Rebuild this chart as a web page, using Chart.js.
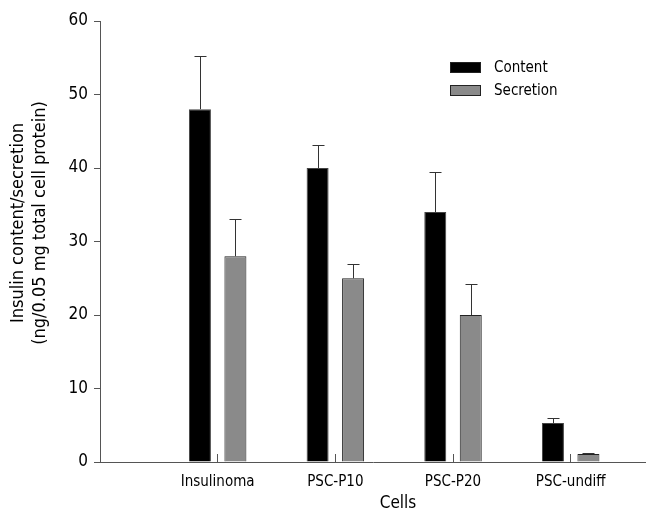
<!DOCTYPE html>
<html>
<head>
<meta charset="utf-8">
<script src="https://cdn.jsdelivr.net/npm/chart.js@4.4.0/dist/chart.umd.min.js"></script>
<style>
  html, body { margin: 0; padding: 0; background: #fff; }
  #wrap { width: 646px; height: 512px; }
</style>
</head>
<body>
<div id="wrap"><canvas id="insulin"></canvas></div>
<script>
const cells = ["Insulinoma", "PSC-P10", "PSC-P20", "PSC-undiff"];
const contentValues = [48, 40, 34, 5.3];
const contentErrors = [7.2, 3.1, 5.5, 0.7];
const secretionValues = [28, 25, 20, 1.1];
const secretionErrors = [5.0, 2.0, 4.2, 0.15];
const yTicks = [0, 10, 20, 30, 40, 50, 60];

const FONT = "'DejaVu Sans Condensed', 'DejaVu Sans', sans-serif";
const AXIS = "#555";

// upward error bars with caps
const errorBars = {
  id: "errorBars",
  afterDatasetsDraw(chart) {
    const ctx = chart.ctx;
    const y = chart.scales.y;
    ctx.save();
    ctx.strokeStyle = "#333";
    ctx.lineWidth = 1;
    chart.data.datasets.forEach((ds, di) => {
      const meta = chart.getDatasetMeta(di);
      meta.data.forEach((bar, i) => {
        const top = y.getPixelForValue(ds.data[i].y + ds.errors[i]);
        const x = Math.round(bar.x) + 0.5;
        ctx.beginPath();
        ctx.moveTo(x, bar.y);
        ctx.lineTo(x, Math.round(top) + 0.5);
        ctx.moveTo(x - 6, Math.round(top) + 0.5);
        ctx.lineTo(x + 6, Math.round(top) + 0.5);
        ctx.stroke();
      });
    });
    ctx.restore();
  }
};

// legend and axis titles
const labels = {
  id: "labels",
  afterDraw(chart) {
    const ctx = chart.ctx;
    ctx.save();
    ctx.fillStyle = "#000";
    ctx.textBaseline = "middle";
    ctx.font = "15px " + FONT;
    chart.data.datasets.forEach((ds, di) => {
      const yy = 62 + di * 23;
      ctx.fillStyle = ds.backgroundColor;
      ctx.fillRect(450, yy, 31, 11);
      ctx.strokeStyle = "#222";
      ctx.strokeRect(450.5, yy + 0.5, 30, 10);
      ctx.fillStyle = "#000";
      ctx.textAlign = "left";
      ctx.fillText(ds.label, 494, yy + 6);
    });

    ctx.textAlign = "center";
    ctx.font = "17px " + FONT;
    ctx.fillText("Cells", 398, 504);

    ctx.font = "18px " + FONT;
    ctx.translate(29, 223);
    ctx.rotate(-Math.PI / 2);
    ctx.fillText("Insulin content/secretion", 0, -11);
    ctx.fillText("(ng/0.05 mg total cell protein)", 0, 11);
    ctx.restore();
  }
};

new Chart(document.getElementById("insulin"), {
  type: "bar",
  data: {
    datasets: [
      {
        label: "Content",
        data: contentValues.map((v, i) => ({ x: i + 1, y: v })),
        errors: contentErrors,
        backgroundColor: "#000",
        borderColor: "#444",
        borderWidth: 1,
      },
      {
        label: "Secretion",
        data: secretionValues.map((v, i) => ({ x: i + 1, y: v })),
        errors: secretionErrors,
        backgroundColor: "#8a8a8a",
        borderColor: "#222",
        borderWidth: 1,
      },
    ],
  },
  options: {
    responsive: true,
    maintainAspectRatio: false,
    animation: false,
    categoryPercentage: 0.603,
    barPercentage: 0.62,
    layout: { padding: { top: 21, right: 0, left: 0, bottom: 0 } },
    plugins: { legend: { display: false }, tooltip: { enabled: false } },
    scales: {
      x: {
        type: "linear",
        min: 0,
        max: 4.64,
        offset: false,
        border: { color: AXIS, width: 1 },
        grid: { offset: false, drawOnChartArea: false, color: AXIS, tickLength: -8 },
        ticks: {
          stepSize: 1,
          includeBounds: false,
          padding: 19,
          color: "#000",
          font: { family: FONT, size: 15 },
          maxRotation: 0,
          autoSkip: false,
          callback: (v) => (v >= 1 && v <= cells.length ? cells[v - 1] : ""),
        },
        afterFit: (s) => { s.height = 50; },
      },
      y: {
        min: 0,
        max: 60,
        border: { color: AXIS, width: 1 },
        grid: { drawOnChartArea: false, color: AXIS, tickLength: 6 },
        afterBuildTicks: (s) => { s.ticks = yTicks.map((v) => ({ value: v })); },
        ticks: {
          padding: 6,
          color: "#000",
          font: { family: FONT, size: 17 },
        },
        afterFit: (s) => { s.width = 100; },
      },
    },
  },
  plugins: [errorBars, labels],
});
</script>
</body>
</html>
